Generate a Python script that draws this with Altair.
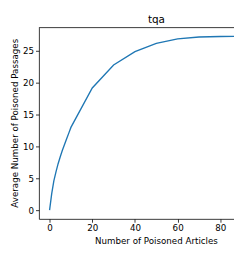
import altair as alt
import pandas as pd

# Data
articles = [0, 1, 2, 3, 4, 5, 6, 7, 8, 9, 10, 20, 30, 40, 50, 60, 70, 80, 90, 100]
passages = [0.0, 2.6, 4.6, 6.0, 7.3, 8.4, 9.4, 10.3, 11.2, 12.1, 13.0,
            19.2, 22.8, 24.9, 26.2, 26.9, 27.2, 27.27, 27.3, 27.3]
x_ticks = [0, 20, 40, 60, 80]
y_ticks = [0, 5, 10, 15, 20, 25]
title_text = "tqa"
x_title = "Number of Poisoned Articles"
y_title = "Average Number of Poisoned Passages"

df = pd.DataFrame({"x": articles, "y": passages})
one = pd.DataFrame({"k": [0]})

W, H = 202, 198
FONT = "DejaVu Sans"

axis_common = dict(grid=False, title=None,
                   tickSize=3.5, tickColor="black", tickWidth=0.8,
                   domainColor="black", domainWidth=0.8,
                   labelFont=FONT, labelFontSize=9, labelColor="black",
                   labelPadding=2, labelFlush=False)

line = alt.Chart(df).mark_line(color="#1f77b4", strokeWidth=1.4, clip=True).encode(
    x=alt.X("x:Q",
            scale=alt.Scale(domain=[-5, 86.4], nice=False, zero=False),
            axis=alt.Axis(values=x_ticks, **axis_common)),
    y=alt.Y("y:Q",
            scale=alt.Scale(domain=[-1.365, 28.67], nice=False, zero=False),
            axis=alt.Axis(values=y_ticks, **axis_common)),
)

top_spine = alt.Chart(one).mark_rule(color="black", strokeWidth=0.8).encode(
    x=alt.value(0), x2=alt.value(W), y=alt.value(0)
)

title_mark = alt.Chart(pd.DataFrame({"t": [title_text]})).mark_text(
    font=FONT, fontSize=10.8, color="black", align="center", baseline="alphabetic"
).encode(x=alt.value(121.7), y=alt.value(-5), text="t:N")

xtitle_mark = alt.Chart(pd.DataFrame({"t": [x_title]})).mark_text(
    font=FONT, fontSize=9, color="black", align="center", baseline="alphabetic"
).encode(x=alt.value(121.7), y=alt.value(H + 25.6), text="t:N")

ytitle_mark = alt.Chart(pd.DataFrame({"t": [y_title]})).mark_text(
    font=FONT, fontSize=9, color="black", align="center", baseline="alphabetic",
    angle=270
).encode(x=alt.value(-21.5), y=alt.value(H / 2), text="t:N")

chart = alt.layer(line, top_spine, title_mark, xtitle_mark, ytitle_mark).properties(
    width=W, height=H,
    autosize=alt.AutoSizeParams(type="none"),
    padding={"left": 32, "top": 16, "right": 0, "bottom": 30},
    background="white",
).configure_view(stroke=None)

chart.save("out.html", embed_options={"renderer": "svg", "actions": False})
